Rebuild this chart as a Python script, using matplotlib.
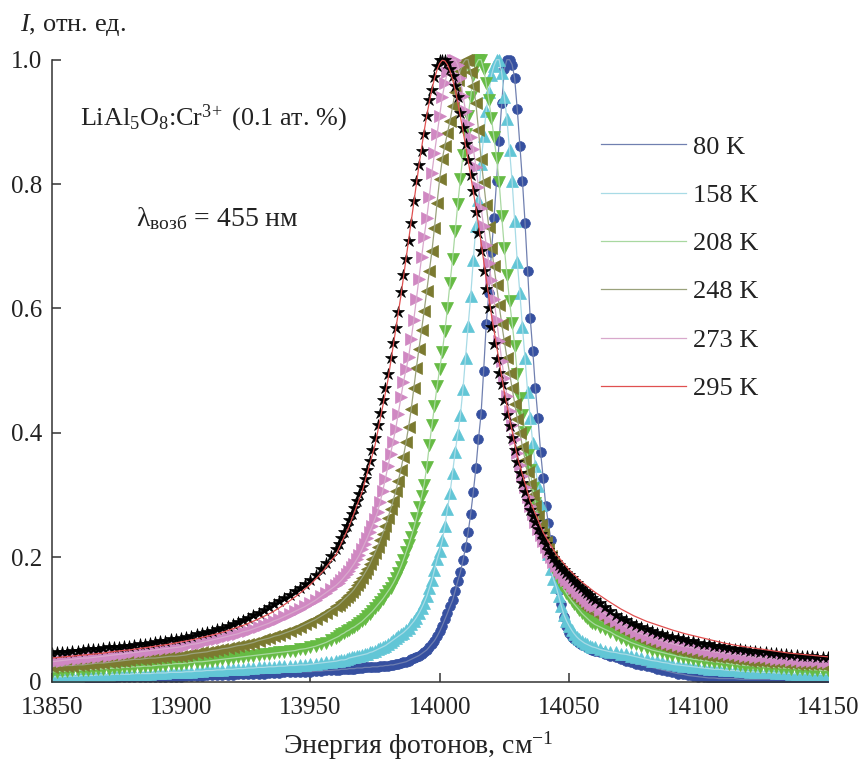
import numpy as np
import matplotlib
matplotlib.use("Agg")
import matplotlib.pyplot as plt

plt.rcParams['font.family'] = ['Liberation Serif', 'DejaVu Serif']
plt.rcParams['mathtext.fontset'] = 'custom'
plt.rcParams['mathtext.rm'] = 'Liberation Serif'
plt.rcParams['mathtext.it'] = 'Liberation Serif:italic'
plt.rcParams['mathtext.bf'] = 'Liberation Serif:bold'

# photon energy of the measured points, cm^-1 (step 2 in the wings, 1 near the line)
energy = np.concatenate([np.arange(13850, 13960, 2),
                         np.arange(13960, 14061, 1),
                         np.arange(14062, 14151, 2)])

# normalized intensity
i_80 = [
    .004, .004, .004, .005, .005, .005, .005, .005, .006, .006,
    .006, .006, .006, .007, .007, .007, .007, .007, .007, .008,
    .008, .008, .008, .008, .008, .008, .009, .009, .009, .009,
    .010, .010, .010, .011, .011, .011, .012, .012, .012, .013,
    .013, .013, .014, .014, .014, .015, .015, .015, .016, .016,
    .016, .017, .017, .018, .018,
    .019, .019, .020, .020, .020, .021, .021, .021, .022, .022,
    .022, .023, .023, .023, .024, .024, .024, .025, .025, .026,
    .026, .027, .027, .028, .029, .030, .031, .032, .034, .036,
    .038, .040, .042, .045, .048, .051, .056, .061, .066, .073,
    .081, .090, .100, .110, .121, .131, .146, .162, .176, .195,
    .216, .240, .270, .305, .343, .390, .430, .500, .575, .625,
    .690, .745, .805, .870, .930, .985, 1.0, 1.0, .992, .970,
    .920, .862, .805, .738, .660, .585, .532, .472, .424, .370,
    .328, .283, .255, .228, .200, .173, .147, .125, .104, .090,
    .078, .072, .068, .065, .062, .059, .057, .055, .053, .051,
    .050,
    .047, .044, .042, .039, .036, .034, .031, .029, .027, .025,
    .023, .021, .019, .017, .015, .013, .012, .010, .009, .008,
    .007, .006, .006, .005, .005, .005, .005, .004, .004, .004,
    .004, .004, .004, .004, .004, .004, .004, .004, .004, .004,
    .004, .004, .004, .004, .004,
]
i_158 = [
    .008, .008, .008, .009, .009, .009, .010, .010, .010, .011,
    .011, .011, .012, .012, .012, .012, .013, .013, .013, .013,
    .014, .014, .014, .015, .015, .015, .016, .016, .017, .017,
    .018, .018, .019, .019, .020, .020, .021, .021, .022, .022,
    .023, .023, .024, .024, .025, .025, .026, .026, .027, .027,
    .028, .029, .030, .031, .032,
    .033, .034, .035, .035, .036, .038, .039, .040, .041, .042,
    .043, .044, .045, .047, .048, .050, .052, .054, .056, .058,
    .061, .064, .067, .070, .073, .076, .079, .083, .087, .092,
    .097, .103, .110, .118, .127, .137, .150, .163, .180, .197,
    .210, .227, .250, .278, .303, .336, .370, .398, .428, .470,
    .521, .572, .620, .678, .732, .774, .832, .878, .918, .948,
    .975, .990, 1.0, 1.0, .978, .940, .905, .855, .805, .740,
    .675, .625, .570, .520, .466, .424, .383, .346, .314, .284,
    .255, .231, .206, .181, .165, .153, .138, .122, .108, .098,
    .090, .083, .077, .072, .068, .065, .062, .060, .058, .056,
    .055,
    .052, .050, .048, .047, .045, .044, .042, .040, .038, .036,
    .034, .033, .031, .030, .028, .027, .026, .025, .024, .023,
    .022, .021, .020, .020, .019, .018, .018, .017, .017, .016,
    .016, .015, .015, .015, .014, .014, .014, .013, .013, .013,
    .013, .012, .012, .012, .012,
]
i_208 = [
    .016, .016, .017, .017, .018, .018, .019, .019, .020, .020,
    .021, .021, .022, .022, .023, .023, .024, .024, .025, .025,
    .026, .027, .027, .028, .029, .029, .030, .031, .032, .032,
    .033, .034, .035, .036, .037, .038, .039, .040, .041, .042,
    .043, .044, .045, .046, .047, .048, .049, .050, .052, .053,
    .055, .057, .060, .063, .067,
    .071, .073, .076, .078, .081, .083, .086, .088, .091, .094,
    .097, .101, .105, .109, .113, .118, .123, .128, .133, .139,
    .145, .151, .158, .166, .175, .185, .196, .208, .220, .233,
    .247, .263, .281, .298, .317, .345, .380, .412, .444, .475,
    .502, .530, .563, .600, .641, .680, .724, .768, .808, .847,
    .880, .910, .940, .975, .992, 1.0, 1.0, .985, .962, .935,
    .906, .875, .842, .803, .748, .697, .654, .612, .577, .540,
    .495, .456, .429, .402, .364, .340, .311, .288, .265, .246,
    .232, .219, .206, .194, .183, .173, .164, .156, .149, .142,
    .136, .130, .125, .120, .115, .110, .106, .102, .098, .095,
    .092,
    .088, .084, .080, .075, .071, .067, .063, .060, .057, .054,
    .051, .049, .047, .045, .043, .041, .039, .038, .036, .035,
    .034, .033, .032, .031, .030, .029, .028, .027, .026, .026,
    .025, .024, .024, .023, .023, .022, .022, .021, .021, .020,
    .020, .019, .019, .018, .018,
]
i_248 = [
    .024, .025, .025, .026, .026, .027, .027, .028, .029, .030,
    .030, .031, .032, .033, .034, .035, .036, .036, .037, .038,
    .038, .039, .040, .041, .041, .042, .043, .045, .046, .047,
    .048, .050, .051, .053, .054, .056, .058, .059, .061, .063,
    .066, .068, .070, .073, .075, .078, .081, .084, .088, .092,
    .096, .100, .105, .110, .116,
    .121, .124, .128, .132, .136, .140, .144, .149, .155, .161,
    .167, .174, .181, .189, .198, .207, .217, .227, .238, .250,
    .263, .277, .291, .306, .323, .341, .362, .385, .410, .438,
    .472, .505, .535, .565, .596, .628, .660, .692, .730, .770,
    .808, .840, .862, .882, .902, .925, .948, .967, .982, .994,
    1.0, 1.0, .980, .958, .930, .887, .840, .803, .766, .731,
    .698, .668, .637, .605, .575, .547, .521, .497, .472, .447,
    .423, .400, .378, .357, .337, .318, .300, .283, .267, .252,
    .238, .225, .213, .202, .192, .183, .175, .168, .161, .155,
    .150, .145, .140, .135, .131, .127, .123, .119, .116, .113,
    .110,
    .105, .100, .095, .090, .085, .080, .076, .072, .069, .066,
    .063, .060, .058, .055, .053, .051, .050, .048, .046, .045,
    .043, .042, .041, .040, .039, .038, .037, .036, .035, .034,
    .034, .033, .032, .032, .031, .031, .030, .030, .029, .029,
    .028, .028, .028, .027, .027,
]
i_273 = [
    .032, .033, .034, .035, .036, .037, .038, .038, .039, .040,
    .041, .042, .043, .044, .045, .046, .047, .048, .049, .050,
    .051, .052, .053, .054, .055, .056, .058, .060, .061, .063,
    .065, .067, .069, .071, .073, .075, .077, .080, .082, .085,
    .088, .091, .094, .098, .101, .105, .109, .113, .117, .121,
    .126, .131, .137, .143, .149,
    .155, .159, .163, .168, .173, .178, .184, .190, .197, .204,
    .213, .222, .231, .241, .251, .262, .273, .289, .307, .326,
    .346, .366, .386, .407, .431, .457, .482, .502, .522, .551,
    .582, .615, .648, .682, .715, .745, .779, .818, .850, .880,
    .910, .940, .962, .980, .995, 1.0, 1.0, .992, .970, .942,
    .918, .897, .876, .857, .828, .795, .762, .732, .702, .673,
    .645, .615, .582, .548, .516, .488, .460, .435, .412, .390,
    .368, .348, .330, .313, .297, .282, .269, .257, .246, .236,
    .226, .217, .208, .200, .193, .186, .180, .174, .169, .164,
    .159, .154, .150, .146, .142, .138, .134, .130, .127, .124,
    .121,
    .115, .109, .103, .098, .093, .088, .084, .080, .077, .074,
    .071, .068, .066, .063, .061, .059, .057, .056, .054, .052,
    .051, .050, .048, .047, .046, .045, .044, .043, .042, .041,
    .040, .039, .039, .038, .037, .037, .036, .035, .035, .034,
    .034, .033, .033, .032, .032,
]
i_295 = [
    .046, .047, .047, .048, .049, .050, .051, .052, .052, .053,
    .054, .055, .056, .056, .057, .058, .059, .060, .061, .062,
    .064, .065, .066, .068, .069, .071, .072, .074, .076, .078,
    .080, .082, .084, .087, .090, .093, .096, .099, .103, .107,
    .111, .115, .120, .125, .130, .135, .140, .145, .151, .157,
    .163, .172, .181, .191, .202,
    .214, .222, .231, .240, .250, .260, .270, .280, .291, .302,
    .313, .326, .340, .355, .373, .392, .412, .432, .453, .472,
    .495, .520, .545, .568, .595, .626, .654, .680, .708, .738,
    .772, .805, .830, .853, .880, .910, .935, .952, .972, .990,
    1.0, 1.0, 1.0, .995, .985, .973, .958, .940, .915, .890,
    .865, .838, .815, .789, .755, .722, .692, .661, .631, .601,
    .571, .543, .518, .497, .478, .453, .429, .411, .392, .372,
    .353, .336, .320, .305, .290, .276, .266, .256, .246, .238,
    .230, .221, .212, .205, .199, .193, .187, .183, .179, .175,
    .171, .167, .162, .158, .154, .150, .146, .142, .139, .135,
    .132,
    .126, .120, .114, .108, .103, .099, .095, .091, .088, .085,
    .082, .079, .077, .074, .072, .070, .068, .066, .065, .063,
    .061, .060, .058, .057, .055, .054, .053, .052, .051, .050,
    .049, .048, .047, .046, .046, .045, .044, .043, .043, .042,
    .041, .041, .040, .039, .039,
]

# fitted curve for 295 K
fit_energy = np.concatenate([np.arange(13850, 13990, 5),
                             np.arange(13990, 14015, 1),
                             np.arange(14015, 14151, 5)])
fit_295 = [
    .038, .040, .042, .044, .046, .049, .051, .054, .057, .060,
    .064, .068, .073, .078, .085, .092, .101, .111, .124, .139,
    .156, .178, .205, .250, .305, .380, .485, .620,
    .770, .800, .830, .858, .885, .910, .932, .952, .970, .984,
    .994, .999, .998, .992, .982, .968, .951, .931, .909, .886,
    .862, .838, .813, .788, .762,
    .735, .590, .465, .362, .290, .240, .205, .180, .160, .144,
    .130, .117, .106, .097, .090, .083, .077, .072, .067, .062,
    .058, .055, .052, .049, .046, .044, .042, .040,
]

labels = ["80 K", "158 K", "208 K", "248 K", "273 K", "295 K"]
curves = [i_80, i_158, i_208, i_248, i_273, i_295]
for c in curves:
    assert len(c) == len(energy)
assert len(fit_295) == len(fit_energy)

markers = ["o", "^", "v", "<", ">", "*"]
msizes = [7, 9, 9, 9, 9, 9]
mcolors = ["#3650a0", "#62c6d6", "#66bb44", "#7b7a30", "#d088c2", "#000000"]
lcolors = ["#7080b0", "#a8dbe6", "#a8d8a0", "#9aa27c", "#d8a8cc", "#e05050"]

fig = plt.figure(figsize=(8.61, 7.65), dpi=100)
ax = fig.add_axes([0.0600, 0.1089, 0.9013, 0.8375])

for k in range(len(labels)):
    ax.plot(energy, curves[k], linestyle="none", marker=markers[k],
            ms=msizes[k], color=mcolors[k], mec=mcolors[k], mew=0.5)
    if labels[k] == "295 K":
        ax.plot(fit_energy, fit_295, color=lcolors[k], lw=0.9, label=labels[k])
    else:
        ax.plot(energy, curves[k], color=lcolors[k], lw=0.9, label=labels[k])

ax.set_xlim(13850, 14150)
ax.set_ylim(0, 1.03)
ax.spines['left'].set_bounds(0, 1)
ax.spines['top'].set_visible(False)
ax.spines['right'].set_visible(False)
for s in ['left', 'bottom']:
    ax.spines[s].set_linewidth(1.1)
    ax.spines[s].set_color('#333333')

ax.set_xticks(np.arange(13850, 14151, 50))
ax.set_yticks([0, 0.2, 0.4, 0.6, 0.8, 1.0])
ax.set_yticklabels(["0", "0.2", "0.4", "0.6", "0.8", "1.0"])
ax.tick_params(direction='in', length=6.5, width=1.1, labelsize=18, pad=7,
               color='#333333', labelcolor='#222222')
ax.tick_params(axis='x', pad=11)

ax.set_xlabel("Энергия фотонов, см$^{-1}$", fontsize=20, color='#222222')
ax.xaxis.set_label_coords(0.472, -0.074)
fig.text(0.023, 0.967, "$I$, отн. ед.", fontsize=19, va='center', color='#222222')

ax.text(13861, 0.906, "LiAl$_5$O$_8$:Cr$^{3\\!+}$ (0.1 ат. %)", fontsize=18.8,
        va='center', color='#222222')
ax.text(13882.6, 0.745, "λ$_{\\mathrm{возб}}$ = 455 нм", fontsize=20,
        va='center', color='#222222')

leg = ax.legend(loc='upper left', bbox_to_anchor=(0.708, 0.853),
                bbox_transform=ax.transAxes, frameon=False, fontsize=19,
                handlelength=3.2, handletextpad=0.27, labelspacing=0.94,
                borderpad=0, borderaxespad=0)
for t in leg.get_texts():
    t.set_color('#222222')

fig.savefig("out.png", dpi=100)
